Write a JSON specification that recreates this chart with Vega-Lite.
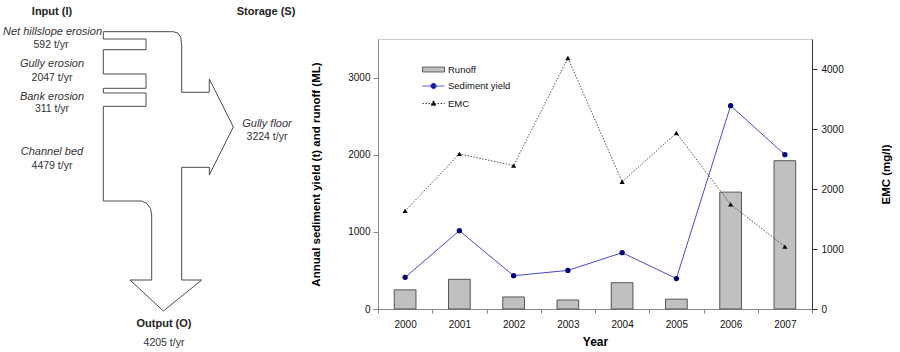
{
  "$schema": "https://vega.github.io/schema/vega-lite/v6.json",
  "padding": {"left": 0, "top": 6, "right": 0, "bottom": 0},
  "bounds": "flush",
  "spacing": 78,
  "resolve": {"legend": {"shape": "independent", "fill": "independent", "stroke": "independent", "strokeDash": "independent"}},
  "config": {
    "view": {"stroke": null},
    "font": "Liberation Sans",
    "axis": {"labelFont": "Liberation Sans", "titleFont": "Liberation Sans", "grid": false},
    "legend": {"labelFont": "Liberation Sans"}
  },
  "datasets": {
    "outline": [
      {"i": 1, "x": 103.3, "y": 32.7},
      {"i": 2, "x": 173.3, "y": 32.7},
      {"i": 3, "x": 178, "y": 34.2},
      {"i": 4, "x": 180.8, "y": 38.5},
      {"i": 5, "x": 181.7, "y": 46.7},
      {"i": 6, "x": 181.7, "y": 93.3},
      {"i": 7, "x": 209.3, "y": 93.3},
      {"i": 8, "x": 209.3, "y": 80},
      {"i": 9, "x": 233.3, "y": 128},
      {"i": 10, "x": 209.3, "y": 176},
      {"i": 11, "x": 209.3, "y": 168.3},
      {"i": 12, "x": 181.7, "y": 168.3},
      {"i": 13, "x": 181.7, "y": 281},
      {"i": 14, "x": 201.7, "y": 281},
      {"i": 15, "x": 163.3, "y": 312},
      {"i": 16, "x": 130, "y": 281},
      {"i": 17, "x": 151.7, "y": 281},
      {"i": 18, "x": 151.7, "y": 216},
      {"i": 19, "x": 150.5, "y": 209.5},
      {"i": 20, "x": 147, "y": 204.5},
      {"i": 21, "x": 141.7, "y": 202},
      {"i": 22, "x": 103.3, "y": 202},
      {"i": 23, "x": 103.3, "y": 107.3},
      {"i": 24, "x": 146, "y": 107.3},
      {"i": 25, "x": 146, "y": 94},
      {"i": 26, "x": 103.3, "y": 94},
      {"i": 27, "x": 103.3, "y": 89.3},
      {"i": 28, "x": 146, "y": 89.3},
      {"i": 29, "x": 146, "y": 75},
      {"i": 30, "x": 103.3, "y": 75},
      {"i": 31, "x": 103.3, "y": 50.7},
      {"i": 32, "x": 146, "y": 50.7},
      {"i": 33, "x": 146, "y": 40},
      {"i": 34, "x": 103.3, "y": 40},
      {"i": 35, "x": 103.3, "y": 32.7}
    ],
    "labels": [
      {"kind": "header", "text": "Input (I)", "x": 52, "y": 16},
      {"kind": "header", "text": "Storage (S)", "x": 266, "y": 16},
      {"kind": "header", "text": "Output (O)", "x": 164, "y": 328},
      {"kind": "source", "text": "Net hillslope erosion", "x": 52.5, "y": 35.5},
      {"kind": "source", "text": "Gully erosion", "x": 52, "y": 67.5},
      {"kind": "source", "text": "Bank erosion", "x": 52, "y": 101},
      {"kind": "source", "text": "Channel bed", "x": 52, "y": 156},
      {"kind": "source", "text": "Gully floor", "x": 267, "y": 128},
      {"kind": "rate", "text": "592 t/yr", "x": 51, "y": 49},
      {"kind": "rate", "text": "2047 t/yr", "x": 52, "y": 82},
      {"kind": "rate", "text": "311 t/yr", "x": 52, "y": 113},
      {"kind": "rate", "text": "4479 t/yr", "x": 52, "y": 169.5},
      {"kind": "rate", "text": "3224 t/yr", "x": 267, "y": 140.5},
      {"kind": "rate", "text": "4205 t/yr", "x": 164, "y": 347}
    ],
    "yearly": [
      {"year": "2000", "runoff": 248, "sediment": 410, "emc": 1635},
      {"year": "2001", "runoff": 385, "sediment": 1015, "emc": 2585},
      {"year": "2002", "runoff": 156, "sediment": 432, "emc": 2390},
      {"year": "2003", "runoff": 117, "sediment": 500, "emc": 4183},
      {"year": "2004", "runoff": 341, "sediment": 730, "emc": 2122},
      {"year": "2005", "runoff": 128, "sediment": 395, "emc": 2933},
      {"year": "2006", "runoff": 1515, "sediment": 2636, "emc": 1744},
      {"year": "2007", "runoff": 1922, "sediment": 2000, "emc": 1040}
    ],
    "series": [
      {"series": "Runoff"},
      {"series": "Sediment yield"},
      {"series": "EMC"}
    ]
  },
  "hconcat": [
    {
      "width": 300,
      "height": 270,
      "layer": [
        {
          "data": {"name": "outline"},
          "mark": {"type": "line", "color": "#4a4a4a", "strokeWidth": 1},
          "encoding": {
            "x": {"field": "x", "type": "quantitative", "scale": {"domain": [0, 300], "zero": false, "nice": false}, "axis": null},
            "y": {"field": "y", "type": "quantitative", "scale": {"domain": [40, 310], "zero": false, "nice": false, "reverse": true}, "axis": null},
            "order": {"field": "i", "type": "quantitative"}
          }
        },
        {
          "data": {"name": "labels"},
          "transform": [{"filter": "datum.kind === 'header'"}],
          "mark": {"type": "text", "fontWeight": "bold", "fontSize": 11, "color": "#222", "align": "center", "baseline": "alphabetic"},
          "encoding": {
            "x": {"field": "x", "type": "quantitative"},
            "y": {"field": "y", "type": "quantitative"},
            "text": {"field": "text"}
          }
        },
        {
          "data": {"name": "labels"},
          "transform": [{"filter": "datum.kind === 'source'"}],
          "mark": {"type": "text", "fontStyle": "italic", "fontSize": 11, "color": "#333", "align": "center", "baseline": "alphabetic"},
          "encoding": {
            "x": {"field": "x", "type": "quantitative"},
            "y": {"field": "y", "type": "quantitative"},
            "text": {"field": "text"}
          }
        },
        {
          "data": {"name": "labels"},
          "transform": [{"filter": "datum.kind === 'rate'"}],
          "mark": {"type": "text", "fontSize": 10.5, "color": "#333", "align": "center", "baseline": "alphabetic"},
          "encoding": {
            "x": {"field": "x", "type": "quantitative"},
            "y": {"field": "y", "type": "quantitative"},
            "text": {"field": "text"}
          }
        }
      ]
    },
    {
      "width": 434,
      "height": 270,
      "view": {"stroke": "#cfcfcf"},
      "layer": [
        {
          "data": {"name": "yearly"},
          "encoding": {
            "x": {
              "field": "year", "type": "ordinal",
              "scale": {"paddingInner": 0, "paddingOuter": 0},
              "axis": {"title": "Year", "labelAngle": 0, "tickBand": "extent", "domainColor": "#888", "tickColor": "#888", "tickSize": 4, "labelPadding": 6, "labelFontSize": 10, "labelColor": "#111", "titleFontWeight": "bold", "titleFontSize": 12, "titlePadding": 7, "titleColor": "#000"}
            }
          },
          "layer": [
            {
              "mark": {"type": "bar", "width": {"band": 0.4}, "fill": "#c0c0c0", "stroke": "#555", "strokeWidth": 1},
              "encoding": {
                "y": {"field": "runoff", "type": "quantitative", "scale": {"domain": [0, 3500], "nice": false},
                  "axis": {"title": "Annual sediment yield (t) and runoff (ML)", "format": "d", "values": [0, 500, 1000, 1500, 2000, 2500, 3000, 3500], "domainColor": "#888", "tickColor": "#888", "tickSize": 5, "labelPadding": 3, "labelFontSize": 10, "labelColor": "#111", "titleFontWeight": "bold", "titleFontSize": 11.5, "titleColor": "#000", "titlePadding": 26}}
              }
            },
            {
              "mark": {"type": "line", "color": "#4a4acc", "strokeWidth": 1},
              "encoding": {
                "y": {"field": "sediment", "type": "quantitative"}
              }
            },
            {
              "mark": {"type": "point", "shape": "circle", "filled": true, "size": 28, "color": "#000080", "opacity": 1},
              "encoding": {
                "y": {"field": "sediment", "type": "quantitative"}
              }
            }
          ]
        },
        {
          "data": {"name": "yearly"},
          "encoding": {
            "x": {"field": "year", "type": "ordinal"}
          },
          "layer": [
            {
              "mark": {"type": "line", "color": "#555", "strokeWidth": 1, "strokeDash": [1.5, 1.5]},
              "encoding": {
                "y": {"field": "emc", "type": "quantitative", "scale": {"domain": [0, 4500], "nice": false},
                  "axis": {"orient": "right", "title": "EMC (mg/l)", "format": "d", "values": [0, 500, 1000, 1500, 2000, 2500, 3000, 3500, 4000, 4500], "domainColor": "#333", "tickColor": "#333", "tickSize": 5, "labelPadding": 4, "labelFontSize": 10, "labelColor": "#111", "titleFontWeight": "bold", "titleFontSize": 11.5, "titleColor": "#000", "titleAngle": 270, "titlePadding": 48}}
              }
            },
            {
              "mark": {"type": "point", "shape": "triangle-up", "filled": true, "size": 26, "color": "#000", "opacity": 1},
              "encoding": {
                "y": {"field": "emc", "type": "quantitative"}
              }
            }
          ]
        },
        {
          "data": {"name": "series"},
          "mark": {"type": "point", "opacity": 0, "strokeWidth": 1},
          "encoding": {
            "shape": {
              "field": "series", "type": "nominal",
              "scale": {"domain": ["Runoff", "Sediment yield", "EMC"], "range": ["M-1.375,-0.31H1.375V0.31H-1.375Z", "M-1.375,0H1.375M0.34,0A0.34,0.34 0 1 1 -0.34,0A0.34,0.34 0 1 1 0.34,0", "M-1.375,0H1.375M0,-0.36L0.34,0.26L-0.34,0.26Z"]},
              "legend": {"title": null, "orient": "none", "legendX": 47, "legendY": 22, "padding": 0, "symbolSize": 256, "symbolOpacity": 1, "symbolStrokeWidth": 1, "labelOffset": 6, "rowPadding": 3.5, "labelFontSize": 9.5, "labelColor": "#111"}
            },
            "fill": {
              "field": "series", "type": "nominal",
              "scale": {"domain": ["Runoff", "Sediment yield", "EMC"], "range": ["#c0c0c0", "#000080", "#000000"]},
              "legend": {"title": null, "orient": "none", "legendX": 47, "legendY": 22, "padding": 0, "symbolSize": 256, "symbolOpacity": 1, "symbolStrokeWidth": 1, "labelOffset": 6, "rowPadding": 3.5, "labelFontSize": 9.5, "labelColor": "#111"}
            },
            "stroke": {
              "field": "series", "type": "nominal",
              "scale": {"domain": ["Runoff", "Sediment yield", "EMC"], "range": ["#555555", "#4a4acc", "#444444"]},
              "legend": {"title": null, "orient": "none", "legendX": 47, "legendY": 22, "padding": 0, "symbolSize": 256, "symbolOpacity": 1, "symbolStrokeWidth": 1, "labelOffset": 6, "rowPadding": 3.5, "labelFontSize": 9.5, "labelColor": "#111"}
            },
            "strokeDash": {
              "field": "series", "type": "nominal",
              "scale": {"domain": ["Runoff", "Sediment yield", "EMC"], "range": [[1, 0], [1, 0], [1.5, 1.5]]},
              "legend": {"title": null, "orient": "none", "legendX": 47, "legendY": 22, "padding": 0, "symbolSize": 256, "symbolOpacity": 1, "symbolStrokeWidth": 1, "labelOffset": 6, "rowPadding": 3.5, "labelFontSize": 9.5, "labelColor": "#111"}
            }
          }
        }
      ],
      "resolve": {"scale": {"y": "independent"}}
    }
  ]
}
